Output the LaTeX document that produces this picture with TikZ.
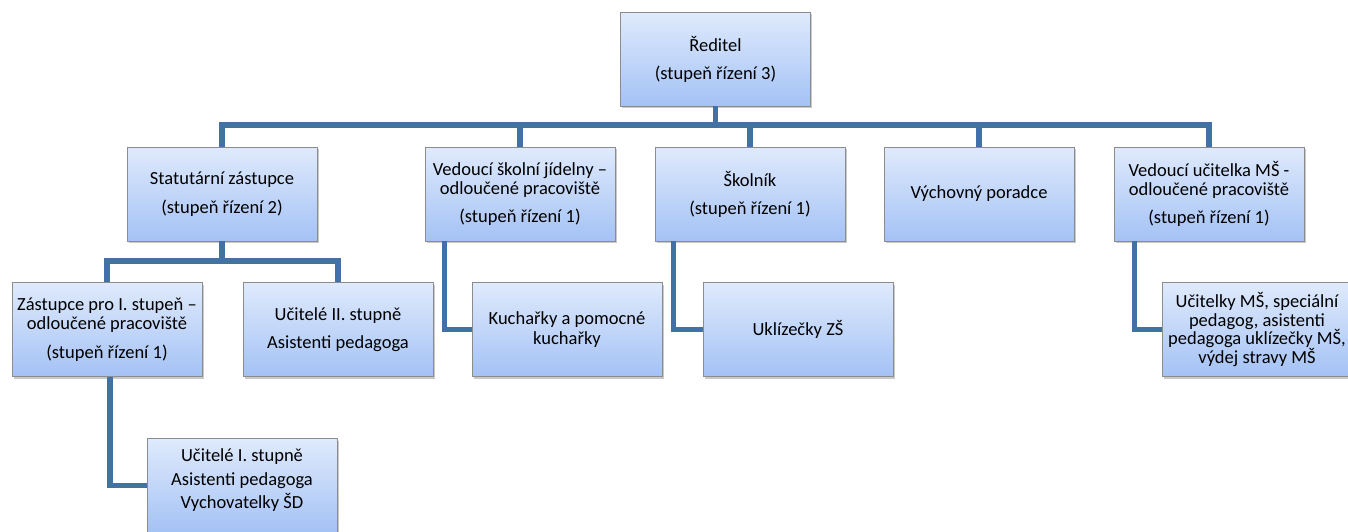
\documentclass[tikz,border=0pt]{standalone}
\usepackage{fontspec}
\setmainfont{Carlito}
\usetikzlibrary{shadows,calc}
\definecolor{connc}{RGB}{66,113,166}
\definecolor{boxtop}{RGB}{223,234,252}
\definecolor{boxbot}{RGB}{164,194,245}
\definecolor{boxline}{RGB}{140,140,140}
\begin{document}
\begin{tikzpicture}[x=1pt,y=-1pt,
  box/.style={draw=boxline, line width=0.8pt, top color=boxtop, bottom color=boxbot,
    minimum width=190pt, minimum height=94pt, align=center, inner sep=1pt,
    font=\fontsize{18.5}{19.5}\selectfont,
    drop shadow={shadow xshift=1.5pt, shadow yshift=-2pt, opacity=0.3, fill=black!70}},
  conn/.style={draw=connc, line width=5.5pt}]
\useasboundingbox (0,0) rectangle (1348,531);
\node[box] (dir) at (715.5,59) {Ředitel\\[8.5pt](stupeň řízení 3)};
\node[box] (stat) at (222,194) {Statutární zástupce\\[10pt](stupeň řízení 2)};
\node[box] (vsj) at (520,194) {Vedoucí školní jídelny –\\odloučené pracoviště\\[8.5pt](stupeň řízení 1)};
\node[box] (skol) at (750,194) {Školník\\[8.5pt](stupeň řízení 1)};
\node[box] (vych) at (979,194) {Výchovný poradce};
\node[box] (vum) at (1209,194) {Vedoucí učitelka MŠ -\\odloučené pracoviště\\[8.5pt](stupeň řízení 1)};
\node[box] (zast) at (107,329.5) {Zástupce pro I. stupeň –\\odloučené pracoviště\\[9.5pt](stupeň řízení 1)};
\node[box] (uc2) at (338,329.5) {Učitelé II. stupně\\[8.5pt]Asistenti pedagoga};
\node[box] (kuch) at (567,329.5) {Kuchařky a pomocné\\kuchařky};
\node[box] (ukl) at (798,329.5) {Uklízečky ZŠ};
\node[box, font=\fontsize{18.5}{18.5}\selectfont] (ucms) at (1257,329.5) {Učitelky MŠ, speciální\\pedagog, asistenti\\pedagoga uklízečky MŠ,\\výdej stravy MŠ};
\node[box] (uc1) at (242,485.5) {Učitelé I. stupně\\[4.5pt]Asistenti pedagoga\\[3.5pt]Vychovatelky ŠD\\[-5pt]\mbox{}};
\coordinate (bus) at (0,125);
\coordinate (bus2) at (0,261);
\draw[conn] (dir.south) -- (dir.south |- bus);
\draw[conn] (stat.north) -- (stat.north |- bus) -- (vum.north |- bus) -- (vum.north);
\foreach \n in {vsj,skol,vych} \draw[conn] (\n.north) -- (\n.north |- bus);
\draw[conn] (stat.south) -- (stat.south |- bus2);
\draw[conn] (zast.north) -- (zast.north |- bus2) -- (uc2.north |- bus2) -- (uc2.north);
\draw[conn] ([xshift=20pt]vsj.south west) |- (kuch.west);
\draw[conn] ([xshift=19pt]skol.south west) |- (ukl.west);
\draw[conn] ([xshift=21pt]vum.south west) |- (ucms.west);
\draw[conn] ([xshift=3pt]zast.south) |- (uc1.west);
\end{tikzpicture}
\end{document}
